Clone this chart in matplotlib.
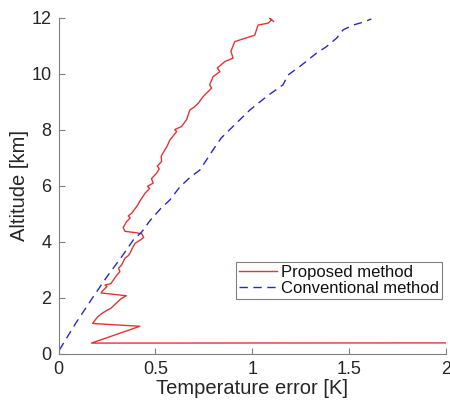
import matplotlib
matplotlib.use("Agg")
import matplotlib.pyplot as plt

# proposed method: temperature error [K] vs altitude [km]
red_err = [3.0, 0.17, 0.42, 0.176, 0.20, 0.22, 0.25, 0.27, 0.29, 0.32, 0.35,
           0.22, 0.223, 0.25, 0.24, 0.27, 0.283, 0.30, 0.317, 0.31, 0.326,
           0.343, 0.36, 0.369, 0.38, 0.395, 0.42, 0.44, 0.43, 0.40, 0.343,
           0.334, 0.35, 0.37, 0.36, 0.377, 0.403, 0.41, 0.42, 0.447, 0.47,
           0.46, 0.489, 0.48, 0.506, 0.52, 0.51, 0.532, 0.53, 0.549, 0.56,
           0.575, 0.61, 0.60, 0.635, 0.661, 0.678, 0.70, 0.721, 0.747, 0.79,
           0.78, 0.798, 0.833, 0.82, 0.859, 0.901, 0.89, 0.91, 0.936, 1.013,
           1.03, 1.082, 1.10, 1.09, 1.11]
red_alt = [0.39, 0.38, 0.98, 1.08, 1.30, 1.42, 1.55, 1.62, 1.75, 1.95, 2.07,
           2.17, 2.21, 2.40, 2.45, 2.50, 2.63, 2.80, 2.93, 3.05, 3.17,
           3.41, 3.50, 3.59, 3.75, 3.94, 4.05, 4.15, 4.28, 4.32, 4.37,
           4.50, 4.70, 4.85, 4.92, 5.01, 5.25, 5.32, 5.45, 5.73, 5.90,
           5.98, 6.09, 6.25, 6.44, 6.60, 6.70, 6.86, 7.05, 7.28, 7.40,
           7.63, 7.93, 8.00, 8.11, 8.35, 8.70, 8.80, 8.94, 9.18, 9.48,
           9.60, 9.89, 10.07, 10.20, 10.43, 10.55, 10.80, 11.14, 11.20, 11.37,
           11.73, 11.80, 11.92, 11.98, 11.86]

# conventional method
blue_err = [0.004, 0.09, 0.18, 0.25, 0.326, 0.386, 0.43, 0.472, 0.53, 0.575,
            0.627, 0.68, 0.73, 0.798, 0.84, 0.884, 0.936, 0.988, 1.074,
            1.159, 1.185, 1.245, 1.332, 1.383, 1.435, 1.469, 1.52, 1.58, 1.615]
blue_alt = [0.13, 1.10, 2.04, 2.75, 3.46, 4.06, 4.35, 4.75, 5.20, 5.49,
            5.96, 6.30, 6.56, 7.28, 7.70, 8.00, 8.35, 8.70, 9.18,
            9.60, 9.95, 10.25, 10.73, 10.96, 11.26, 11.56, 11.73, 11.85, 11.95]

x_ticks = [0, 0.5, 1, 1.5, 2]
x_labels = ["0", "0.5", "1", "1.5", "2"]
y_ticks = [0, 2, 4, 6, 8, 10, 12]

_TXT = "#262626"
_AX = "#808080"

plt.rcParams["font.family"] = ["Liberation Sans", "DejaVu Sans"]

fig = plt.figure(figsize=(4.5, 4.08), dpi=100)
ax = fig.add_axes([0.13, 0.133, 0.861, 0.824])

ax.plot(red_err, red_alt, color="#e33535", linewidth=1.0, label="Proposed method")
ax.plot(blue_err, blue_alt, color="#2828c8", linewidth=1.0,
        linestyle=(0, (6, 4)), label="Conventional method")

ax.set_xlim(0, 2)
ax.set_ylim(0, 12)
ax.set_xticks(x_ticks)
ax.set_xticklabels(x_labels)
ax.set_yticks(y_ticks)
ax.tick_params(direction="in", length=4, colors=_AX, labelcolor=_TXT,
               labelsize=13, pad=5)
for side in ("top", "right"):
    ax.spines[side].set_visible(False)
for side in ("left", "bottom"):
    ax.spines[side].set_color(_AX)

ax.set_xlabel("Temperature error [K]", fontsize=14.5, color=_TXT, labelpad=1)
ax.set_ylabel("Altitude [km]", fontsize=14.5, color=_TXT, labelpad=1.5)

leg = ax.legend(loc="lower right", bbox_to_anchor=(0.99, 0.162), fontsize=12,
                frameon=True, fancybox=False, edgecolor="#606060",
                handlelength=2.3, handletextpad=0.2, borderpad=0.2,
                labelspacing=0.05, borderaxespad=0)
leg.get_frame().set_linewidth(0.8)
for t in leg.get_texts():
    t.set_color("#111111")

fig.savefig("out.png", dpi=100, facecolor="white")
